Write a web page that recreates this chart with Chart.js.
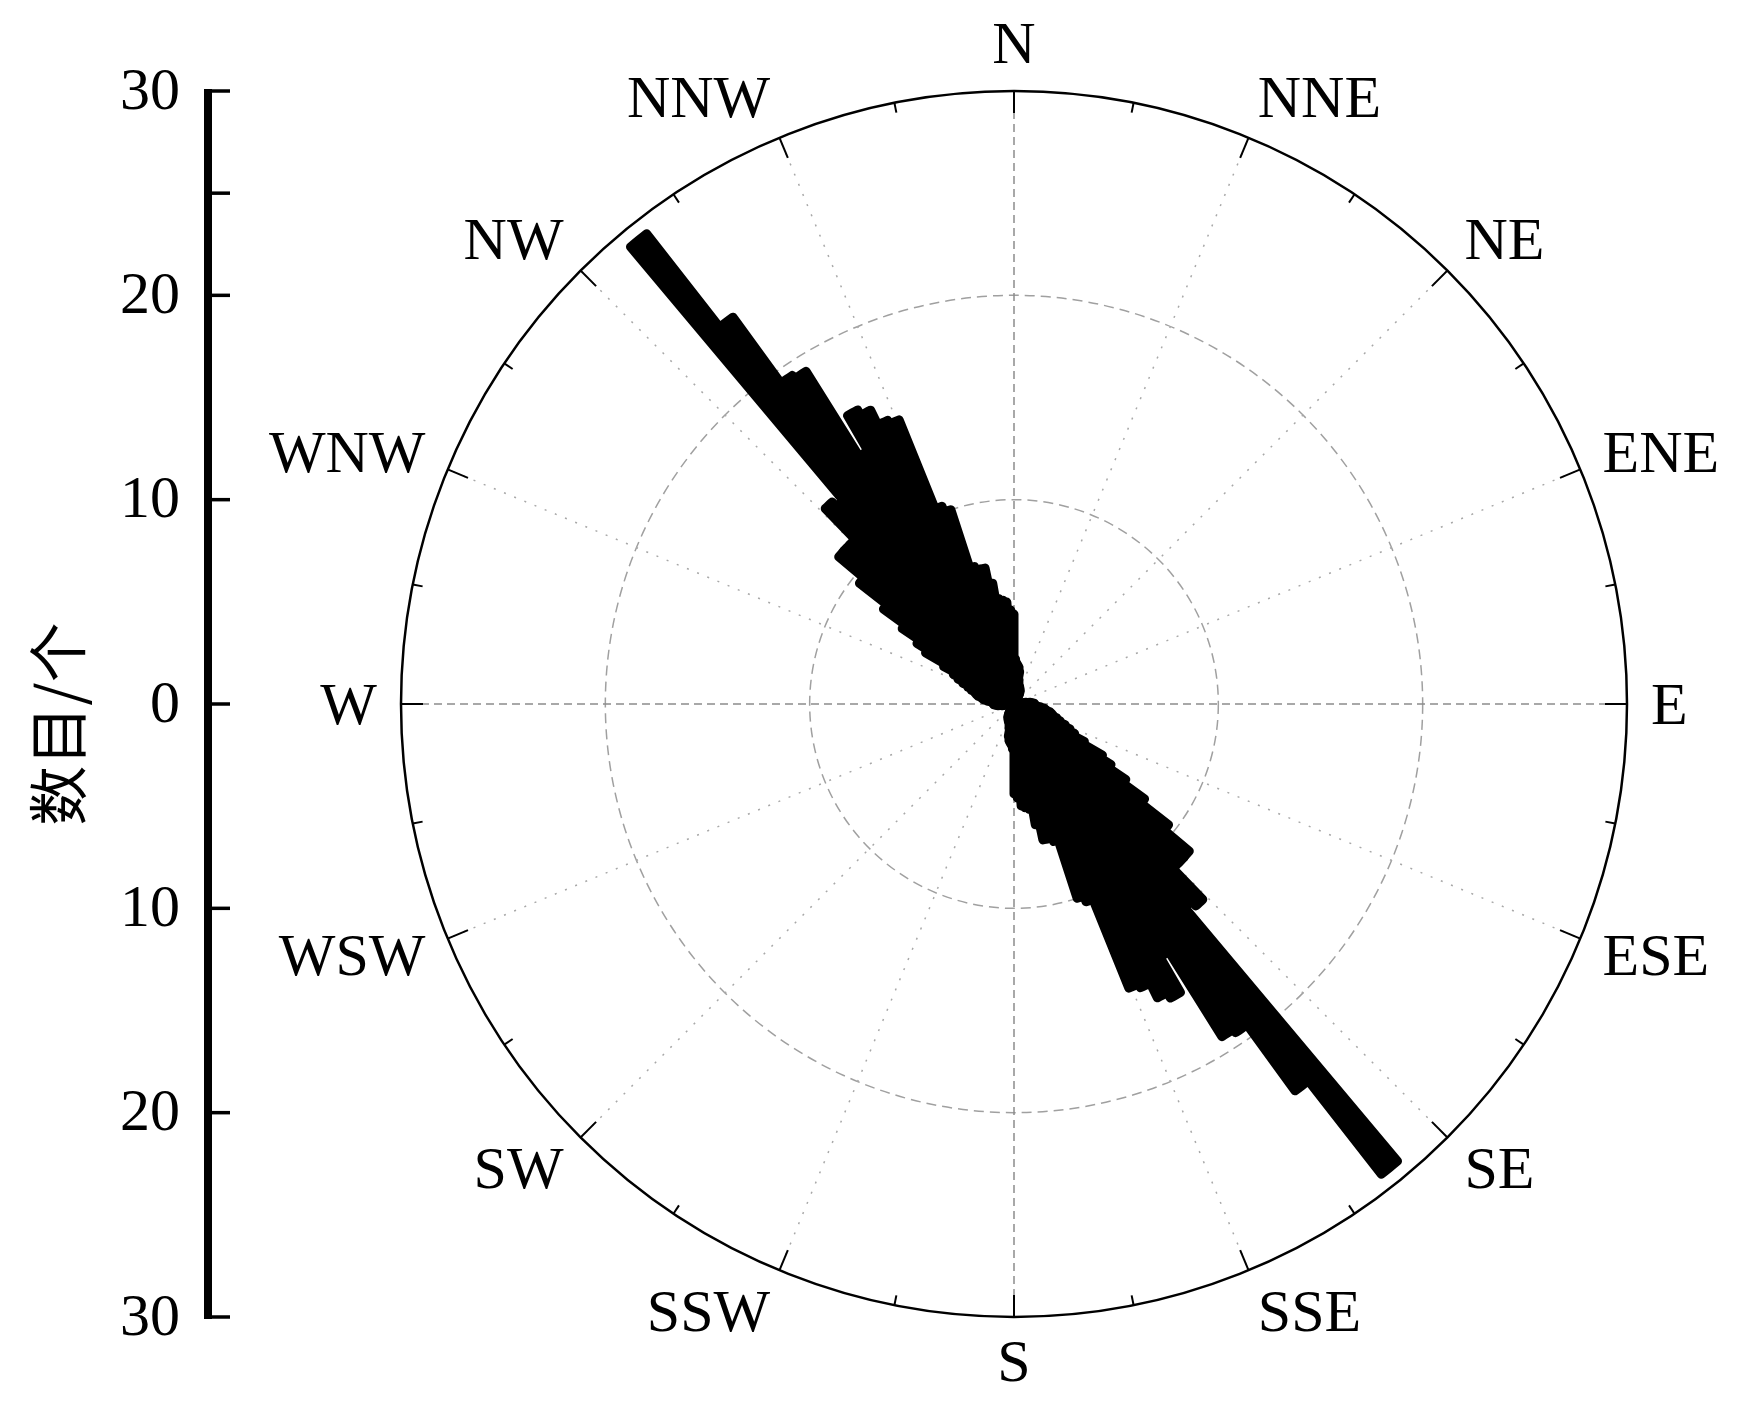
<!DOCTYPE html>
<html>
<head>
<meta charset="utf-8">
<script src="https://cdn.jsdelivr.net/npm/chart.js@4.4.1/dist/chart.umd.min.js"></script>
<style>
  html, body { margin: 0; padding: 0; background: #fff; }
  #wrap { width: 1760px; height: 1413px; position: relative; }
</style>
</head>
<body>
<div id="wrap"><canvas id="rose"></canvas></div>
<script>
// 2-degree strike bins, azimuth clockwise from north.
// The rose is bidirectional: bins for 0-180 are repeated for 180-360.
const binWidth = 2;

// az 0 .. 88
const countsNtoE = [2.2, 2.0, 1.9, 1.8, 1.6, 1.2, 1.0, 0.9, 0.9, 0.8,
  0.8, 0.7, 0.7, 0.6, 0.5,
  0, 0, 0, 0, 0, 0, 0, 0, 0, 0, 0, 0, 0, 0, 0, 0, 0, 0, 0, 0, 0, 0, 0, 0, 0, 0,
  0.6, 0.8, 0.9, 1.0];
// az 90 .. 178
const countsEtoS = [1.0, 1.0, 1.1, 1.3, 1.5, 1.6, 1.8, 1.9, 2.0, 2.2,
  2.4, 2.7, 3.0, 3.3, 3.9, 5.0, 5.6, 6.6, 7.9, 9.6,
  11.2, 11.2, 11.2, 13.3, 13.0, 29.2, 23.4, 19.4, 19.2, 14.3,
  16.3, 16.0, 15.2, 15.0, 10.3, 10.0, 7.0, 6.8, 6.8, 6.0,
  5.2, 5.1, 5.0, 4.6, 4.4];

const compassLabels = ['N', 'NNE', 'NE', 'ENE', 'E', 'ESE', 'SE', 'SSE',
  'S', 'SSW', 'SW', 'WSW', 'W', 'WNW', 'NW', 'NNW'];
const ringValues = [10, 20];
const rMax = 30;
const axisTickValues = [30, 25, 20, 10, 0, -10, -20, -30];
const axisLabelValues = [30, 20, 10, 0, -10, -20, -30];
const axisTitle = '数目/个';

const counts = [].concat(countsNtoE, countsEtoS, countsNtoE, countsEtoS);
const binLabels = counts.map((_, i) => (i * binWidth) + '°');

const serif = '"Liberation Serif", "Times New Roman", serif';
const rad = d => d * Math.PI / 180;

const roseDecor = {
  id: 'roseDecor',
  beforeDatasetsDraw(chart) {
    const r = chart.scales.r;
    const ctx = chart.ctx;
    const cx = r.xCenter, cy = r.yCenter;
    const R = r.getDistanceFromCenterForValue(rMax);
    ctx.save();
    ctx.lineWidth = 1.5;
    ctx.strokeStyle = '#a0a0a0';
    ctx.setLineDash([10, 6]);
    ringValues.forEach(v => {
      ctx.beginPath();
      ctx.arc(cx, cy, r.getDistanceFromCenterForValue(v), 0, Math.PI * 2);
      ctx.stroke();
    });
    compassLabels.forEach((_, i) => {
      const a = rad(i * 22.5);
      const cardinal = i % 4 === 0;
      ctx.setLineDash(cardinal ? [8, 5] : [2, 9]);
      ctx.strokeStyle = cardinal ? '#8c8c8c' : '#a8a8a8';
      ctx.beginPath();
      ctx.moveTo(cx, cy);
      ctx.lineTo(cx + R * Math.sin(a), cy - R * Math.cos(a));
      ctx.stroke();
    });
    ctx.restore();
  },
  afterDatasetsDraw(chart) {
    const r = chart.scales.r;
    const ctx = chart.ctx;
    const cx = r.xCenter, cy = r.yCenter;
    const R = r.getDistanceFromCenterForValue(rMax);
    ctx.save();
    ctx.setLineDash([]);
    ctx.strokeStyle = '#000';

    // outer circle
    ctx.lineWidth = 2.5;
    ctx.beginPath();
    ctx.arc(cx, cy, R, 0, Math.PI * 2);
    ctx.stroke();

    // ticks every 11.25 deg
    ctx.lineWidth = 2;
    for (let i = 0; i < 32; i++) {
      const a = rad(i * 11.25);
      const len = i % 2 === 0 ? 22 : 10;
      ctx.beginPath();
      ctx.moveTo(cx + R * Math.sin(a), cy - R * Math.cos(a));
      ctx.lineTo(cx + (R - len) * Math.sin(a), cy - (R - len) * Math.cos(a));
      ctx.stroke();
    }

    // direction labels
    ctx.fillStyle = '#000';
    ctx.font = '60px ' + serif;
    ctx.textBaseline = 'middle';
    compassLabels.forEach((lab, i) => {
      const a = rad(i * 22.5);
      const s = Math.sin(a), c = Math.cos(a);
      let x, y;
      if (Math.abs(s) < 0.01) {
        ctx.textAlign = 'center';
        x = cx;
        y = cy - c * (R + 46) + 2;
      } else {
        ctx.textAlign = s > 0 ? 'left' : 'right';
        x = cx + s * (R + 24);
        y = cy - c * (R + 44) + 4;
      }
      ctx.fillText(lab, x, y);
    });

    // left count axis
    const ax = 208;
    ctx.lineWidth = 8;
    ctx.beginPath();
    ctx.moveTo(ax, cy - R - 2);
    ctx.lineTo(ax, cy + R + 2);
    ctx.stroke();
    ctx.lineWidth = 3.5;
    axisTickValues.forEach(v => {
      const y = cy - Math.sign(v) * r.getDistanceFromCenterForValue(Math.abs(v));
      ctx.beginPath();
      ctx.moveTo(ax, y);
      ctx.lineTo(ax + 22, y);
      ctx.stroke();
    });
    ctx.textAlign = 'right';
    ctx.font = '60px ' + serif;
    axisLabelValues.forEach(v => {
      const y = cy - Math.sign(v) * r.getDistanceFromCenterForValue(Math.abs(v));
      ctx.fillText(String(Math.abs(v)), 180, y + 2);
    });

    // axis title
    ctx.translate(58, 724);
    ctx.rotate(-Math.PI / 2);
    ctx.textAlign = 'center';
    ctx.font = '60px "Noto Sans CJK SC", sans-serif';
    ctx.fillText(axisTitle, 0, 0);
    ctx.restore();
  }
};

new Chart(document.getElementById('rose'), {
  type: 'polarArea',
  data: {
    labels: binLabels,
    datasets: [{
      data: counts,
      backgroundColor: '#000',
      borderColor: '#000',
      borderWidth: 9,
      borderJoinStyle: 'round'
    }]
  },
  options: {
    responsive: true,
    maintainAspectRatio: false,
    animation: false,
    layout: { padding: { left: 401, right: 133, top: 91, bottom: 96 } },
    plugins: { legend: { display: false }, tooltip: { enabled: false } },
    scales: {
      r: {
        min: 0,
        max: rMax,
        startAngle: 0,
        ticks: { display: false, stepSize: 10 },
        grid: { display: false },
        angleLines: { display: false },
        pointLabels: { display: false }
      }
    }
  },
  plugins: [roseDecor]
});
</script>
</body>
</html>
